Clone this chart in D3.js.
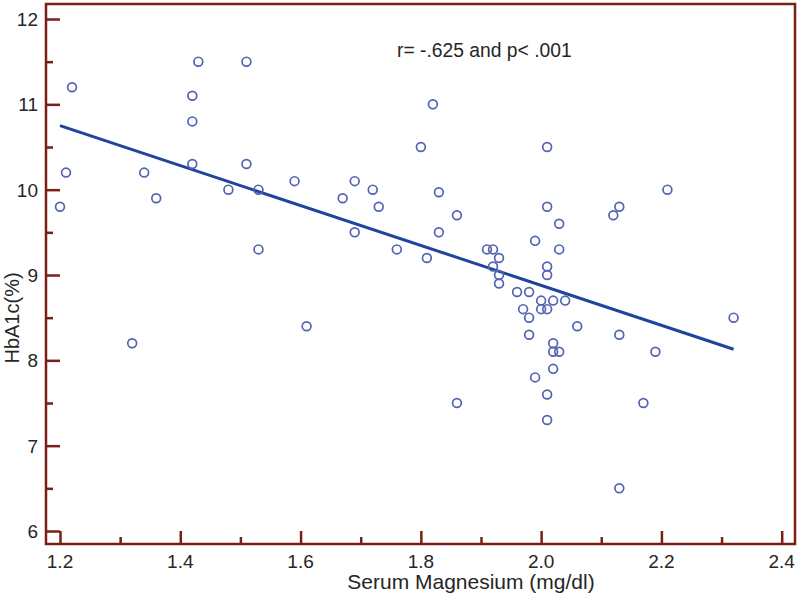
<!DOCTYPE html>
<html>
<head>
<meta charset="utf-8">
<script src="https://cdn.jsdelivr.net/npm/d3@7"></script>
<style>
  html, body { margin: 0; padding: 0; background: #fff; }
  svg { display: block; }
  text { font-family: Arial, "Liberation Sans", sans-serif; }
</style>
</head>
<body>
<svg id="chart" width="800" height="596"></svg>
<script>
// ---- data ----
const magnesium = [1.20, 1.21, 1.22, 1.32, 1.34, 1.36, 1.42, 1.42, 1.42, 1.43,
                   1.48, 1.51, 1.51, 1.53, 1.53, 1.59, 1.61, 1.67, 1.69, 1.69,
                   1.72, 1.73, 1.76, 1.80, 1.81, 1.82, 1.83, 1.83, 1.86, 1.86,
                   1.91, 1.92, 1.93, 1.92, 1.93, 1.93, 1.96, 1.98, 1.97, 1.98,
                   1.98, 1.99, 1.99, 2.00, 2.00, 2.01, 2.01, 2.01, 2.01, 2.01,
                   2.01, 2.01, 2.02, 2.02, 2.02, 2.02, 2.03, 2.03, 2.03, 2.04,
                   2.06, 2.12, 2.13, 2.13, 2.13, 2.17, 2.19, 2.21, 2.32];
const hba1c     = [9.8, 10.2, 11.2, 8.2, 10.2, 9.9, 11.1, 10.8, 10.3, 11.5,
                   10.0, 11.5, 10.3, 10.0, 9.3, 10.1, 8.4, 9.9, 10.1, 9.5,
                   10.0, 9.8, 9.3, 10.5, 9.2, 11.0, 9.97, 9.5, 9.7, 7.5,
                   9.3, 9.3, 9.2, 9.1, 9.0, 8.9, 8.8, 8.8, 8.6, 8.5,
                   8.3, 9.4, 7.8, 8.7, 8.6, 10.5, 9.8, 9.1, 9.0, 8.6,
                   7.6, 7.3, 8.7, 8.2, 8.1, 7.9, 9.6, 9.3, 8.1, 8.7,
                   8.4, 9.7, 9.8, 8.3, 6.5, 7.5, 8.1, 10.0, 8.5];
const fitX = [1.20, 2.32];
const fitY = [10.75, 8.13];
const xTicks = [1.2, 1.4, 1.6, 1.8, 2.0, 2.2, 2.4];
const xMinorTicks = [1.3, 1.5, 1.7, 1.9, 2.1, 2.3];
const yTicks = [6, 7, 8, 9, 10, 11, 12];
const yMinorTicks = [6.5, 7.5, 8.5, 9.5, 10.5, 11.5];
const xTitle = "Serum Magnesium (mg/dl)";
const yTitle = "HbA1c(%)";
const note = "r= -.625 and p< .001";

// ---- layout ----
const svg = d3.select("#chart");
const frameL = 46, frameR = 795, frameT = 4, frameB = 544;
const frameColor = "#7a1f16";
const textColor = "#262626";

const x = d3.scaleLinear().domain([1.2, 2.4]).range([60, 781.7]);
const y = d3.scaleLinear().domain([6, 12]).range([531, 19]);

// frame
svg.append("rect")
  .attr("x", frameL).attr("y", frameT)
  .attr("width", frameR - frameL).attr("height", frameB - frameT)
  .attr("fill", "none").attr("stroke", frameColor).attr("stroke-width", 2.5);

// x axis
svg.append("g").attr("transform", `translate(0,${frameB})`)
  .call(d3.axisTop(x).tickValues(xTicks).tickSize(13).tickFormat(""))
  .call(g => g.select(".domain").remove())
  .call(g => g.selectAll("line").attr("stroke", frameColor).attr("stroke-width", 2.5));
svg.append("g").attr("transform", `translate(0,${frameB})`)
  .call(d3.axisTop(x).tickValues(xMinorTicks).tickSize(7).tickFormat(""))
  .call(g => g.select(".domain").remove())
  .call(g => g.selectAll("line").attr("stroke", frameColor).attr("stroke-width", 2.5));
svg.append("g").selectAll("text").data(xTicks).join("text")
  .attr("x", d => x(d)).attr("y", 568)
  .attr("text-anchor", "middle")
  .attr("font-size", 19).attr("fill", textColor)
  .text(d => d3.format(".1f")(d));

// y axis
svg.append("g").attr("transform", `translate(${frameL},0)`)
  .call(d3.axisRight(y).tickValues(yTicks).tickSize(14).tickFormat(""))
  .call(g => g.select(".domain").remove())
  .call(g => g.selectAll("line").attr("stroke", frameColor).attr("stroke-width", 2.5));
svg.append("g").attr("transform", `translate(${frameL},0)`)
  .call(d3.axisRight(y).tickValues(yMinorTicks).tickSize(7).tickFormat(""))
  .call(g => g.select(".domain").remove())
  .call(g => g.selectAll("line").attr("stroke", frameColor).attr("stroke-width", 2.5));
svg.append("g").selectAll("text").data(yTicks).join("text")
  .attr("x", 38).attr("y", d => y(d)).attr("dy", "0.36em")
  .attr("text-anchor", "end")
  .attr("font-size", 19).attr("fill", textColor)
  .text(d => d);

// titles
svg.append("text")
  .attr("x", 471).attr("y", 589)
  .attr("text-anchor", "middle").attr("font-size", 21).attr("fill", textColor)
  .text(xTitle);
svg.append("text")
  .attr("transform", "translate(19,318) rotate(-90)")
  .attr("text-anchor", "middle").attr("font-size", 20).attr("fill", textColor)
  .text(yTitle);

// annotation
svg.append("text")
  .attr("x", 397).attr("y", 57)
  .attr("font-size", 19.3).attr("fill", textColor)
  .text(note);

// regression line
const fit = fitX.map((d, i) => [d, fitY[i]]);
svg.append("path")
  .datum(fit)
  .attr("d", d3.line().x(d => x(d[0])).y(d => y(d[1])))
  .attr("fill", "none").attr("stroke", "#2143a0").attr("stroke-width", 3);

// points
const pts = magnesium.map((d, i) => [d, hba1c[i]]);
svg.append("g").selectAll("circle").data(pts).join("circle")
  .attr("cx", d => x(d[0])).attr("cy", d => y(d[1]))
  .attr("r", 4.4)
  .attr("fill", "none").attr("stroke", "#5262b4").attr("stroke-width", 1.7);
</script>
</body>
</html>
